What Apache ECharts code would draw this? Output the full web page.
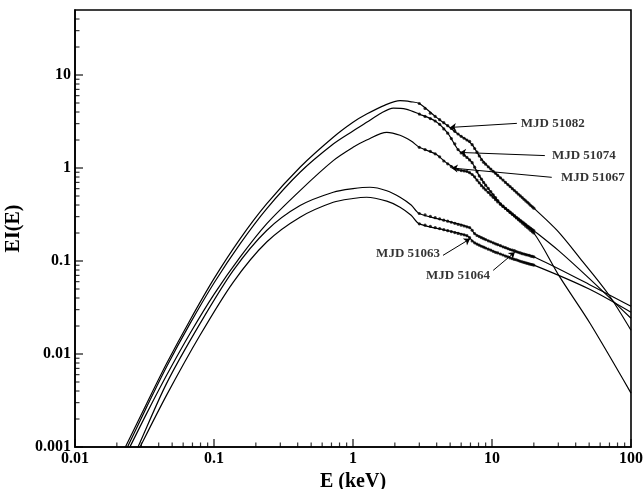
<!DOCTYPE html>
<html>
<head>
<meta charset="utf-8">
<script src="https://cdn.jsdelivr.net/npm/echarts@6/dist/echarts.min.js"></script>
<style>
html,body{margin:0;padding:0;background:#fff;}
#chart{width:644px;height:489px;}
</style>
</head>
<body>
<div id="chart"></div>
<script>
// ---- tick values ----
const xMajorTicks = [0.01, 0.1, 1, 10, 100];
const xMinorTicks = [0.02,0.03,0.04,0.05,0.06,0.07,0.08,0.09,0.2,0.3,0.4,0.5,0.6,0.7,0.8,0.9,2,3,4,5,6,7,8,9,20,30,40,50,60,70,80,90];
const yMajorTicks = [0.001, 0.01, 0.1, 1, 10];
const yMinorTicks = [0.002,0.003,0.004,0.005,0.006,0.007,0.008,0.009,0.02,0.03,0.04,0.05,0.06,0.07,0.08,0.09,0.2,0.3,0.4,0.5,0.6,0.7,0.8,0.9,2,3,4,5,6,7,8,9,20,30,40];

// ---- observed data (E in keV, EI(E)) ----
const energyGrid = [3.0,3.3,3.6,3.9,4.2,4.5,4.8,5.1,5.4,5.7,6.0,6.3,6.6,6.9,7.2,7.5,7.8,8.1,8.4,8.7,9.0,9.4,9.8,10.2,10.6,11.0,11.5,12.0,12.5,13.0,13.5,14.0,14.5,15.0,15.5,16.0,16.5,17.0,17.5,18.0,18.5,19.0,19.5,20.0];
const obs51082 = [4.94,4.37,3.89,3.59,3.31,3.07,2.85,2.66,2.48,2.32,2.19,2.09,2.00,1.93,1.78,1.62,1.48,1.35,1.23,1.15,1.10,1.03,0.973,0.923,0.877,0.832,0.785,0.741,0.700,0.664,0.631,0.600,0.573,0.547,0.522,0.501,0.481,0.461,0.443,0.427,0.411,0.395,0.382,0.370];
const obs51074 = [3.80,3.59,3.40,3.20,2.95,2.63,2.37,2.07,1.82,1.58,1.45,1.37,1.30,1.22,1.14,1.02,0.912,0.822,0.759,0.700,0.653,0.603,0.556,0.516,0.481,0.447,0.412,0.389,0.369,0.351,0.333,0.318,0.304,0.290,0.278,0.267,0.256,0.247,0.237,0.229,0.221,0.213,0.206,0.200];
const obs51067 = [1.67,1.58,1.51,1.42,1.32,1.19,1.11,1.035,0.991,0.959,0.938,0.929,0.918,0.891,0.851,0.804,0.741,0.692,0.646,0.610,0.582,0.547,0.513,0.484,0.457,0.432,0.407,0.386,0.367,0.351,0.335,0.321,0.308,0.295,0.284,0.274,0.264,0.255,0.246,0.238,0.231,0.224,0.218,0.212];
const obs51063 = [0.324,0.313,0.302,0.292,0.284,0.275,0.268,0.261,0.254,0.248,0.243,0.238,0.233,0.229,0.214,0.197,0.188,0.183,0.178,0.174,0.170,0.165,0.161,0.157,0.153,0.150,0.146,0.142,0.139,0.136,0.133,0.131,0.129,0.126,0.124,0.122,0.120,0.119,0.117,0.116,0.115,0.113,0.112,0.111];
const obs51064 = [0.251,0.243,0.236,0.229,0.223,0.217,0.212,0.207,0.202,0.198,0.194,0.191,0.187,0.178,0.164,0.157,0.152,0.148,0.144,0.141,0.138,0.134,0.131,0.127,0.124,0.122,0.119,0.116,0.113,0.111,0.108,0.106,0.104,0.103,0.101,0.0993,0.098,0.0966,0.0953,0.0942,0.0931,0.092,0.0912,0.0904];

// ---- model curves [E, EI(E)] ----
const model51082 = [[0.0215,0.00082],[0.0225,0.00093],[0.0328,0.00294],[0.0456,0.0079],[0.0672,0.0231],[0.1,0.0646],[0.154,0.173],[0.239,0.411],[0.416,1.02],[0.721,2.14],[1.0,3.10],[1.254,3.80],[1.7,4.75],[2.18,5.29],[2.62,5.15],[3.0,4.94],[3.9,3.59],[4.8,2.85],[5.7,2.32],[6.6,2.0],[7.2,1.78],[8.1,1.35],[9.0,1.10],[10.2,0.923],[12,0.741],[15,0.547],[20,0.37],[29.4,0.213],[43,0.107],[68,0.045],[100,0.018]];
const model51074 = [[0.0222,0.00082],[0.0233,0.00093],[0.0328,0.0027],[0.0456,0.0073],[0.0672,0.0212],[0.1,0.058],[0.154,0.153],[0.239,0.364],[0.416,0.90],[0.721,1.81],[1.0,2.5],[1.254,3.1],[1.6,3.9],[1.95,4.4],[2.4,4.3],[3.0,3.8],[3.9,3.2],[4.8,2.37],[5.7,1.58],[6.6,1.30],[7.2,1.14],[8.1,0.822],[9.0,0.653],[10.2,0.516],[12,0.389],[15,0.29],[20,0.20],[30.8,0.067],[50.7,0.0214],[100,0.0038]];
const model51067 = [[0.0230,0.00082],[0.0242,0.00093],[0.0328,0.0023],[0.0456,0.0059],[0.0672,0.0166],[0.1,0.0438],[0.154,0.110],[0.239,0.251],[0.416,0.572],[0.721,1.2],[1.0,1.667],[1.254,2.0],[1.75,2.42],[2.18,2.25],[2.62,1.95],[3.0,1.67],[3.9,1.42],[4.8,1.11],[5.7,0.959],[6.6,0.918],[7.2,0.851],[8.1,0.692],[9.0,0.582],[10.2,0.484],[12,0.386],[15,0.295],[20,0.212],[30,0.13],[50,0.065],[100,0.0242]];
const model51063 = [[0.0270,0.00085],[0.0284,0.001],[0.0456,0.00483],[0.0793,0.0212],[0.1377,0.0793],[0.2393,0.213],[0.416,0.395],[0.721,0.549],[1.0,0.60],[1.325,0.621],[1.75,0.57],[2.18,0.485],[2.62,0.40],[3.0,0.324],[4.8,0.268],[6.9,0.229],[7.5,0.197],[9.0,0.170],[12,0.142],[16,0.122],[20,0.111],[50,0.056],[100,0.0326]];
const model51064 = [[0.0280,0.00085],[0.0294,0.001],[0.0456,0.00361],[0.0793,0.0159],[0.1377,0.0594],[0.2393,0.16],[0.416,0.296],[0.721,0.428],[1.0,0.47],[1.254,0.485],[1.75,0.44],[2.18,0.379],[2.62,0.31],[3.0,0.251],[4.8,0.212],[6.6,0.187],[7.5,0.157],[9.0,0.138],[12,0.116],[16,0.0993],[20,0.0904],[50,0.05],[100,0.0281]];

// ---- annotations ----
const labelNames = ['MJD 51082','MJD 51074','MJD 51067','MJD 51063','MJD 51064'];
const labelTextPos = [[15.6,3.02],[26.1,1.36],[30.3,0.794],[4.37,0.121],[10.0,0.070]];
const labelSide = ['right','right','right','left','left'];
const arrowFrom = [[15.1,3.02],[24.0,1.36],[26.9,0.794],[4.44,0.115],[10.2,0.0793]];
const arrowTo = [[4.99,2.73],[5.89,1.47],[5.13,1.0],[6.95,0.173],[14.6,0.1245]];

const X_MIN = 0.01, X_MAX = 100, Y_MIN = 0.001, Y_MAX = 50;
const FONT = '"Liberation Serif", "Times New Roman", serif';
const fmt = v => String(parseFloat(Number(v).toPrecision(4)));

const series = [];
[model51082, model51074, model51067, model51063, model51064].forEach(m => {
  series.push({type: 'line', data: m, showSymbol: false, smooth: 0.3, clip: true,
    lineStyle: {color: '#000', width: 1.2}, silent: true, z: 2});
});
[obs51082, obs51074, obs51067, obs51063, obs51064].forEach(o => {
  series.push({type: 'scatter', data: energyGrid.map((e, i) => [e, o[i]]),
    symbol: 'circle', symbolSize: 3.2, itemStyle: {color: '#000'}, silent: true, z: 3});
});
// inward tick marks, placed through the axes' own scales
function tickSeries(data, size, offset) {
  return {type: 'scatter', data: data, symbol: 'rect', symbolSize: size, symbolOffset: offset,
    itemStyle: {color: '#000'}, silent: true, clip: false, z: 5};
}
series.push(tickSeries(xMajorTicks.map(v => [v, Y_MIN]), [1.4, 8], [0, -4]));
series.push(tickSeries(xMinorTicks.map(v => [v, Y_MIN]), [1.2, 4.5], [0, -2.25]));
series.push(tickSeries(yMajorTicks.map(v => [X_MIN, v]), [8, 1.4], [4, 0]));
series.push(tickSeries(yMinorTicks.map(v => [X_MIN, v]), [4.5, 1.2], [2.25, 0]));

series.push({
  type: 'scatter', symbolSize: 0, silent: true, z: 4,
  data: labelTextPos.map((p, i) => ({value: p, label: {position: labelSide[i]}})),
  label: {show: true, distance: 2, formatter: p => labelNames[p.dataIndex],
    fontFamily: FONT, fontWeight: 'bold', fontSize: 13, color: '#000'},
  markLine: {
    silent: true, symbol: ['none', 'arrow'], symbolSize: 6, animation: false,
    label: {show: false},
    lineStyle: {color: '#000', width: 1, type: 'solid'},
    data: arrowFrom.map((f, i) => [{coord: f}, {coord: arrowTo[i]}])
  }
});

function axis(min, max, ticks, name, gap, isY) {
  return {
    type: 'log', logBase: 10, min: min, max: max,
    position: isY ? 'left' : 'bottom',
    name: name, nameLocation: 'middle', nameGap: gap,
    nameTextStyle: {fontFamily: FONT, fontWeight: 'bold', fontSize: 20, color: '#000'},
    axisLine: {show: true, onZero: false, lineStyle: {color: '#000', width: 1.6}},
    axisTick: {show: false},
    axisLabel: {show: true, customValues: ticks, formatter: fmt, margin: 4,
      fontFamily: FONT, fontWeight: 'bold', fontSize: 16, color: '#000'},
    splitLine: {show: false}, minorTick: {show: false}
  };
}

const chart = echarts.init(document.getElementById('chart'), null, {renderer: 'canvas'});
chart.setOption({
  animation: false,
  backgroundColor: '#fff',
  grid: {left: 75, right: 13, top: 10, bottom: 42, show: true, borderColor: '#000', borderWidth: 1.6,
    containLabel: false, outerBoundsMode: 'none'},
  xAxis: axis(X_MIN, X_MAX, xMajorTicks, 'E (keV)', 24, false),
  yAxis: axis(Y_MIN, Y_MAX, yMajorTicks, 'EI(E)', 46, true),
  series: series
});
</script>
</body>
</html>
